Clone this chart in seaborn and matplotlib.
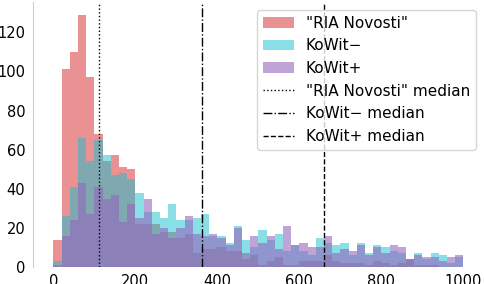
import numpy as np
import pandas as pd
import matplotlib
matplotlib.use("Agg")
import matplotlib.pyplot as plt
import seaborn as sns

# histogram counts per 20-unit bin, 0..1000
bin_edges = np.arange(0, 1001, 20)
ria = [14, 101, 110, 129, 97, 68, 54, 57, 51, 50,
       22, 22, 22, 18, 18, 15, 17, 7, 9, 9,
       10, 8, 8, 4, 6, 1, 3, 5, 1, 1,
       3, 3, 3, 6, 3, 2, 2, 2, 1, 3,
       2, 1, 2, 4, 1, 1, 1, 0, 0, 0]
kowit_minus = [3, 26, 41, 66, 54, 65, 57, 47, 48, 45,
               38, 28, 28, 25, 32, 24, 24, 25, 27, 16,
               16, 12, 21, 14, 10, 19, 14, 17, 8, 11,
               8, 6, 15, 12, 11, 12, 6, 12, 7, 11,
               10, 8, 7, 4, 7, 4, 7, 6, 2, 5]
kowit_plus = [1, 16, 24, 43, 27, 41, 35, 37, 23, 32,
              25, 35, 17, 20, 15, 20, 26, 17, 16, 17,
              15, 11, 20, 7, 16, 12, 16, 9, 21, 11,
              12, 10, 10, 16, 7, 9, 8, 11, 6, 10,
              7, 11, 10, 4, 6, 5, 5, 3, 5, 6]
medians = {"\"RIA Novosti\"": 110, "KoWit\u2212": 362, "KoWit+": 660}

centers = (bin_edges[:-1] + bin_edges[1:]) / 2
series = [("\"RIA Novosti\"", ria, "tab:red", 0.5),
          ("KoWit\u2212", kowit_minus, "tab:cyan", 0.5),
          ("KoWit+", kowit_plus, "tab:purple", 0.6)]

sns.set_style("white")
plt.rcParams['font.family'] = ['DejaVu Sans']
plt.rcParams['text.color'] = 'black'
plt.rcParams['xtick.labelcolor'] = 'black'
plt.rcParams['ytick.labelcolor'] = 'black'

fig, ax = plt.subplots(figsize=(4.84, 2.84), dpi=100)

for name, counts, color, a in series:
    df = pd.DataFrame({"length": centers, "count": counts})
    sns.histplot(data=df, x="length", weights="count", bins=len(centers),
                 binrange=(bin_edges[0], bin_edges[-1]), color=color,
                 alpha=a, linewidth=0, ax=ax, label=name)

styles = [":", "-.", "--"]
for (name, med), ls in zip(medians.items(), styles):
    ax.axvline(med, color="black", linestyle=ls, linewidth=1, label=f"{name} median")

ax.set_xlabel("")
ax.set_ylabel("")
ax.set_xticks([0, 200, 400, 600, 800, 1000])
ax.set_yticks([0, 20, 40, 60, 80, 100, 120])
ax.tick_params(labelsize=10.5, length=3.5, color="#cccccc", labelcolor="black")
ax.tick_params(axis="x", pad=1.5)
ax.tick_params(axis="y", pad=2)
ax.set_xlim(-50, 1050)
ax.set_ylim(0, 135.5)
for s in ["top", "right", "bottom"]:
    ax.spines[s].set_visible(False)
ax.spines["left"].set_color("#cccccc")

handles, labels = ax.get_legend_handles_labels()
order = [3, 4, 5, 0, 1, 2]
ax.legend([handles[i] for i in order], [labels[i] for i in order],
          loc="upper right", fontsize=11, frameon=True, labelcolor="black")

plt.subplots_adjust(left=0.068, right=1.0, bottom=0.06, top=0.993)
plt.savefig("out.png", dpi=100)
